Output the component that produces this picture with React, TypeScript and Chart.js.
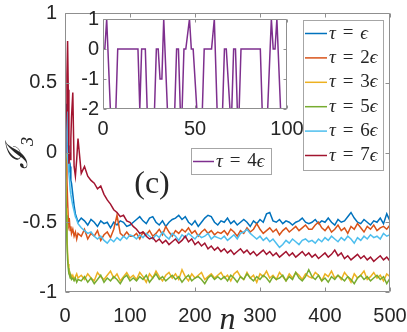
import React, { useEffect, useRef } from "react";
import { Chart, registerables } from "chart.js";
Chart.register(...registerables);

// ---------- data ----------
const N = [
  0, 1, 2, 3, 4, 5, 6, 7, 8, 9, 10, 12, 14, 16, 18, 20,
  25, 30, 35, 40, 45, 50, 55, 60, 65, 70, 75, 80, 85, 90, 95, 100,
  105, 110, 115, 120, 125, 130, 135, 140, 145, 150, 155, 160, 165, 170, 175, 180, 185, 190, 195, 200,
  205, 210, 215, 220, 225, 230, 235,
  240, 245, 250, 255, 260, 265, 270, 275, 280, 285, 290, 295, 300, 305, 310, 315, 320, 325, 330, 335,
  340, 345, 350, 355, 360, 365, 370, 375,
  380, 385, 390, 395, 400, 405, 410, 415, 420, 425, 430, 435, 440, 445, 450, 455, 460, 465, 470, 475,
  480, 485, 490, 495, 500,
];

const I3_TAU1 = [
  0, 0.2, 0.35, 0.1, -0.02, 0.05, -0.08, -0.12, -0.1, -0.2, -0.22, -0.3, -0.38, -0.44, -0.47, -0.5,
  -0.47, -0.49, -0.52, -0.48, -0.5, -0.53, -0.49, -0.51, -0.5, -0.54, -0.5, -0.52, -0.49, -0.5, -0.53, -0.52,
  -0.5, -0.48, -0.46, -0.49, -0.51, -0.47, -0.46, -0.5, -0.52, -0.49, -0.53, -0.5, -0.48, -0.47, -0.45, -0.48, -0.46, -0.5, -0.52, -0.49,
  -0.53, -0.5, -0.47, -0.45, -0.46, -0.5, -0.52,
  -0.49, -0.5, -0.47, -0.51, -0.49, -0.52, -0.5, -0.48, -0.5, -0.53, -0.49, -0.51, -0.48, -0.5, -0.44, -0.43, -0.49, -0.5, -0.48, -0.51,
  -0.49, -0.5, -0.52, -0.5, -0.49, -0.47, -0.5, -0.51,
  -0.5, -0.48, -0.51, -0.49, -0.5, -0.47, -0.5, -0.52, -0.48, -0.5, -0.49, -0.46, -0.43, -0.47, -0.5, -0.51,
  -0.48, -0.5, -0.52, -0.49, -0.5, -0.47, -0.51, -0.44, -0.49,
];

const I3_TAU2 = [
  0, 0.05, -0.05, -0.2, -0.35, -0.47, -0.52, -0.5, -0.56, -0.53, -0.58, -0.55, -0.6, -0.57, -0.62, -0.58,
  -0.6, -0.55, -0.62, -0.58, -0.6, -0.56, -0.63, -0.59, -0.57, -0.61, -0.55, -0.45, -0.58, -0.6, -0.57, -0.6,
  -0.6, -0.58, -0.62, -0.57, -0.59, -0.56, -0.6, -0.58, -0.55, -0.59, -0.53, -0.57, -0.6, -0.56, -0.58, -0.55, -0.57, -0.54, -0.58, -0.56,
  -0.6, -0.57, -0.55, -0.58, -0.56, -0.59, -0.57,
  -0.58, -0.56, -0.59, -0.55, -0.57, -0.6, -0.56, -0.58, -0.54, -0.57, -0.55, -0.51, -0.55, -0.58, -0.56, -0.54, -0.57, -0.55, -0.59, -0.56,
  -0.54, -0.57, -0.55, -0.53, -0.56, -0.54, -0.52, -0.55,
  -0.55, -0.52, -0.5, -0.54, -0.56, -0.53, -0.57, -0.55, -0.52, -0.56, -0.54, -0.58, -0.53, -0.55, -0.51, -0.54,
  -0.57, -0.53, -0.55, -0.52, -0.56, -0.54, -0.53, -0.55, -0.52,
];

const I3_TAU3 = [
  0, -0.15, -0.4, -0.6, -0.72, -0.8, -0.84, -0.86, -0.88, -0.87, -0.9, -0.88, -0.91, -0.89, -0.87, -0.9,
  -0.88, -0.91, -0.87, -0.9, -0.92, -0.86, -0.89, -0.91, -0.88, -0.85, -0.9, -0.87, -0.92, -0.89, -0.86, -0.9,
  -0.88, -0.91, -0.86, -0.89, -0.93, -0.87, -0.9, -0.85, -0.89, -0.92, -0.88, -0.86, -0.9, -0.87, -0.91, -0.84, -0.89, -0.92, -0.87, -0.9,
  -0.88, -0.86, -0.91, -0.89, -0.87, -0.9, -0.88,
  -0.86, -0.9, -0.88, -0.92, -0.87, -0.85, -0.89, -0.91, -0.86, -0.9, -0.88, -0.93, -0.87, -0.89, -0.85, -0.9, -0.88, -0.91, -0.86, -0.89,
  -0.92, -0.87, -0.9, -0.86, -0.88, -0.91, -0.87, -0.89,
  -0.9, -0.86, -0.88, -0.92, -0.87, -0.89, -0.85, -0.9, -0.88, -0.91, -0.86, -0.89, -0.93, -0.87, -0.9, -0.88,
  -0.85, -0.91, -0.89, -0.86, -0.9, -0.88, -0.92, -0.87, -0.89,
];

const I3_TAU5 = [
  0, -0.2, -0.45, -0.65, -0.77, -0.83, -0.87, -0.88, -0.9, -0.89, -0.91, -0.9, -0.92, -0.9, -0.93, -0.91,
  -0.92, -0.89, -0.93, -0.9, -0.94, -0.91, -0.88, -0.93, -0.9, -0.92, -0.89, -0.91, -0.94, -0.9, -0.88, -0.92,
  -0.9, -0.92, -0.89, -0.91, -0.88, -0.93, -0.9, -0.87, -0.91, -0.89, -0.92, -0.9, -0.88, -0.91, -0.89, -0.93, -0.9, -0.88, -0.92, -0.9,
  -0.89, -0.91, -0.94, -0.9, -0.88, -0.91, -0.89,
  -0.91, -0.89, -0.92, -0.88, -0.9, -0.93, -0.89, -0.91, -0.87, -0.9, -0.92, -0.89, -0.91, -0.88, -0.9, -0.93, -0.89, -0.91, -0.9, -0.88,
  -0.92, -0.89, -0.91, -0.86, -0.9, -0.92, -0.89, -0.84,
  -0.89, -0.91, -0.88, -0.92, -0.9, -0.93, -0.89, -0.91, -0.88, -0.9, -0.92, -0.89, -0.91, -0.94, -0.9, -0.88,
  -0.91, -0.89, -0.92, -0.9, -0.88, -0.91, -0.89, -0.94, -0.9,
];

const I3_TAU6 = [
  0, 0.1, 0.3, 0.05, -0.05, -0.08, -0.15, -0.2, -0.27, -0.3, -0.33, -0.38, -0.42, -0.46, -0.48, -0.51,
  -0.54, -0.56, -0.58, -0.57, -0.6, -0.62, -0.6, -0.63, -0.65, -0.62, -0.64, -0.61, -0.63, -0.6, -0.62, -0.59,
  -0.6, -0.62, -0.59, -0.61, -0.58, -0.6, -0.62, -0.59, -0.61, -0.57, -0.6, -0.62, -0.58, -0.6, -0.63, -0.59, -0.61, -0.58, -0.6, -0.62,
  -0.59, -0.61, -0.6, -0.58, -0.62, -0.6, -0.61,
  -0.62, -0.6, -0.63, -0.61, -0.59, -0.62, -0.58, -0.57, -0.55, -0.58, -0.6, -0.62, -0.6, -0.63, -0.61, -0.64, -0.62, -0.65, -0.68, -0.66,
  -0.63, -0.65, -0.62, -0.64, -0.66, -0.63, -0.62, -0.64,
  -0.63, -0.65, -0.62, -0.64, -0.61, -0.63, -0.6, -0.62, -0.64, -0.61, -0.63, -0.6, -0.62, -0.65, -0.61, -0.63,
  -0.6, -0.62, -0.59, -0.61, -0.6, -0.62, -0.58, -0.6, -0.59,
];

const I3_TAU7 = [
  0, 0.15, 0.3, 0.55, 0.8, 0.45, -0.08, 0.0, -0.05, 0.1, 0.25, 0.43, -0.1, -0.17, -0.05, 0.1,
  -0.15, -0.1, -0.17, -0.2, -0.22, -0.26, -0.24, -0.3, -0.34, -0.37, -0.41, -0.43, -0.46, -0.45, -0.49, -0.5,
  -0.53, -0.55, -0.58, -0.57, -0.6, -0.62, -0.61, -0.64, -0.62, -0.65, -0.63, -0.66, -0.64, -0.62, -0.65, -0.63, -0.6, -0.64, -0.62, -0.66,
  -0.64, -0.67, -0.65, -0.69, -0.67, -0.7, -0.68,
  -0.71, -0.69, -0.72, -0.7, -0.73, -0.71, -0.69, -0.72, -0.7, -0.73, -0.71, -0.74, -0.72, -0.7, -0.73, -0.71, -0.74, -0.72, -0.75, -0.73,
  -0.71, -0.74, -0.72, -0.75, -0.73, -0.71, -0.74, -0.72,
  -0.75, -0.73, -0.76, -0.74, -0.72, -0.75, -0.73, -0.7, -0.74, -0.72, -0.76, -0.74, -0.77, -0.75, -0.73, -0.76,
  -0.74, -0.77, -0.75, -0.78, -0.76, -0.74, -0.77, -0.75, -0.78,
];

const SERIES_LABELS = ["τ = ϵ", "τ = 2ϵ", "τ = 3ϵ", "τ = 5ϵ", "τ = 6ϵ", "τ = 7ϵ"];
const SERIES_COLORS = ["#0072BD", "#D95319", "#EDB120", "#77AC30", "#4DBEEE", "#A2142F"];
const SERIES_VALUES = [I3_TAU1, I3_TAU2, I3_TAU3, I3_TAU5, I3_TAU6, I3_TAU7];

const INSET_N = [
  0, 1, 2, 4, 7, 8, 19, 20, 21, 23, 24, 28, 29, 30, 31, 32, 33, 35, 39, 40, 41, 42, 43, 44, 45, 47,
  48, 49, 51, 54, 55, 59, 60.5, 62, 65, 66, 67, 69, 70, 71, 72, 73, 74, 75, 85.5, 86.5, 89.5, 91.5,
  92.5, 93.5, 94.5, 96.5, 100,
];
const INSET_TAU4 = [
  0, 0, 1, -2, -2, 0, 0, -2, 0, 0, -2, -2, 0, 0, -1, -1, 1, -2, -2, 0, 0, -2, -2, 0, 0, 1,
  0, 0, -2, -2, 0, 0, 1, -2, -2, 0, 0, -2, -2, 0, 0, -2, -2, 0, 0, -2, -2, 1,
  0, 0, 1, -2, -2,
];
const INSET_LABEL = "τ = 4ϵ";
const INSET_COLOR = "#7E2F8E";

const X_TICKS = [0, 100, 200, 300, 400, 500];
const Y_TICKS = [-1, -0.5, 0, 0.5, 1];
const INSET_X_TICKS = [0, 50, 100];
const INSET_Y_TICKS = [-2, -1, 0, 1];
const X_TITLE = "n";
const Y_TITLE = "ℐ₃";
const PANEL_TAG = "(c)";

// ---------- styling ----------
const MATH_FONT = "'Liberation Serif','DejaVu Serif',serif";
const TICK_FONT = "'Liberation Sans',Arial,sans-serif";
const INK = "#262626";
const AXIS_GRAY = "#8f8f8f";
const LEGEND_GRAY = "#a6a6a6";
const TICK_SIZE = 20;

function drawMath(ctx: CanvasRenderingContext2D, text: string, x: number, y: number, size: number) {
  let cx = x;
  ctx.textAlign = "left";
  ctx.textBaseline = "middle";
  ctx.fillStyle = INK;
  for (const ch of text) {
    if (ch === " ") {
      cx += size * 0.36;
      continue;
    }
    const italic = /[a-zA-Zα-ωϵ]/.test(ch);
    ctx.font = `${italic ? "italic " : ""}${size}px ${MATH_FONT}`;
    ctx.fillText(ch, cx, y);
    cx += ctx.measureText(ch).width;
  }
}

function framePlugin(id: string, xTicks: number[], yTicks: number[], tickLen: number) {
  return {
    id,
    afterDatasetsDraw(chart: any) {
      const { ctx, chartArea: a } = chart;
      const xs = chart.scales.x;
      const ys = chart.scales.y;
      const L = Math.round(a.left) + 0.5;
      const R = Math.round(a.right) - 0.5;
      const T = Math.round(a.top) + 0.5;
      const B = Math.round(a.bottom) - 0.5;
      ctx.save();
      ctx.strokeStyle = AXIS_GRAY;
      ctx.lineWidth = 1;
      ctx.beginPath();
      for (const v of xTicks) {
        const px = Math.round(xs.getPixelForValue(v)) + 0.5;
        ctx.moveTo(px, B);
        ctx.lineTo(px, B - tickLen);
        ctx.moveTo(px, T);
        ctx.lineTo(px, T + tickLen);
      }
      for (const v of yTicks) {
        const py = Math.round(ys.getPixelForValue(v)) + 0.5;
        ctx.moveTo(L, py);
        ctx.lineTo(L + tickLen, py);
        ctx.moveTo(R, py);
        ctx.lineTo(R - tickLen, py);
      }
      ctx.rect(L, T, R - L, B - T);
      ctx.stroke();
      ctx.restore();
    },
  };
}

const overlayPlugin = {
  id: "overlay",
  afterDraw(chart: any) {
    const { ctx, chartArea: a } = chart;
    ctx.save();
    // main legend (top right inside axes)
    const bw = 80, rowH = 24.4;
    const bx = a.right - 7 - bw;
    const by = a.top + 7;
    const bh = 150;
    ctx.fillStyle = "#fff";
    ctx.fillRect(bx + 0.5, by + 0.5, bw, bh);
    ctx.strokeStyle = LEGEND_GRAY;
    ctx.lineWidth = 1;
    ctx.strokeRect(bx + 0.5, by + 0.5, bw, bh);
    SERIES_LABELS.forEach((lab, i) => {
      const cy = by + 13.5 + i * rowH;
      ctx.strokeStyle = SERIES_COLORS[i];
      ctx.lineWidth = 1.5;
      ctx.beginPath();
      ctx.moveTo(bx + 2, cy);
      ctx.lineTo(bx + 24, cy);
      ctx.stroke();
      drawMath(ctx, lab, bx + 26, cy, 19);
    });
    // inset series legend
    const ix = 191, iy = 148, iw = 80, ih = 26;
    ctx.fillStyle = "#fff";
    ctx.fillRect(ix + 0.5, iy + 0.5, iw, ih);
    ctx.strokeStyle = LEGEND_GRAY;
    ctx.lineWidth = 1;
    ctx.strokeRect(ix + 0.5, iy + 0.5, iw, ih);
    ctx.strokeStyle = INSET_COLOR;
    ctx.lineWidth = 1.5;
    ctx.beginPath();
    ctx.moveTo(ix + 2, iy + 13.5);
    ctx.lineTo(ix + 23, iy + 13.5);
    ctx.stroke();
    drawMath(ctx, INSET_LABEL, ix + 25, iy + 13.5, 19);
    // panel tag
    ctx.fillStyle = INK;
    ctx.font = `32px ${MATH_FONT}`;
    ctx.textAlign = "center";
    ctx.textBaseline = "middle";
    ctx.fillText(PANEL_TAG, 152, 185);
    ctx.restore();
  },
};

const insetBgPlugin = {
  id: "insetBg",
  beforeDatasetsDraw(chart: any) {
    const { ctx, chartArea: a } = chart;
    ctx.save();
    ctx.fillStyle = "#fff";
    ctx.fillRect(a.left, a.top, a.right - a.left, a.bottom - a.top);
    ctx.restore();
  },
};

function fixX(h: number) {
  return (s: any) => {
    s.height = h;
    s.paddingLeft = 0;
    s.paddingRight = 0;
  };
}
function fixY(w: number) {
  return (s: any) => {
    s.width = w;
    s.paddingTop = 0;
    s.paddingBottom = 0;
  };
}

export default function App() {
  const mainRef = useRef<HTMLCanvasElement>(null);
  const insetRef = useRef<HTMLCanvasElement>(null);

  useEffect(() => {
    document.body.style.margin = "0";
    const tickFont = { size: TICK_SIZE, family: TICK_FONT };

    const main = new Chart(mainRef.current as HTMLCanvasElement, {
      type: "line",
      data: {
        datasets: SERIES_VALUES.map((vals, i) => ({
          label: SERIES_LABELS[i],
          data: N.map((n, k) => ({ x: n, y: vals[k] })),
          borderColor: SERIES_COLORS[i],
          borderWidth: 1.5,
          pointRadius: 0,
          fill: false,
          tension: 0,
          order: SERIES_VALUES.length - i,
        })),
      },
      options: {
        responsive: false,
        animation: false,
        events: [],
        layout: { padding: { top: 13, right: 17, left: 0, bottom: 0 } },
        plugins: { legend: { display: false }, tooltip: { enabled: false } },
        scales: {
          x: {
            type: "linear",
            min: 0,
            max: 500,
            afterBuildTicks: (s: any) => {
              s.ticks = X_TICKS.map((v) => ({ value: v }));
            },
            afterFit: fixX(40),
            ticks: { font: tickFont, color: INK, padding: 12, maxRotation: 0, callback: (v: any) => String(v) },
            grid: { display: false, drawTicks: false },
            border: { display: false },
            title: {
              display: true,
              text: X_TITLE,
              color: INK,
              font: { size: 32, style: "italic", family: MATH_FONT, lineHeight: 1 },
              padding: { top: 0, bottom: -5 },
            },
          },
          y: {
            type: "linear",
            min: -1,
            max: 1,
            afterBuildTicks: (s: any) => {
              s.ticks = Y_TICKS.map((v) => ({ value: v }));
            },
            afterFit: fixY(65),
            ticks: { font: tickFont, color: INK, padding: 8, callback: (v: any) => String(v) },
            grid: { display: false, drawTicks: false },
            border: { display: false },
            title: {
              display: true,
              text: Y_TITLE,
              color: INK,
              font: { size: 30, style: "italic", family: MATH_FONT, lineHeight: 1 },
              padding: { top: 4, bottom: 0 },
            },
          },
        },
      } as any,
      plugins: [framePlugin("mainFrame", X_TICKS, Y_TICKS, 4), overlayPlugin],
    });

    const inset = new Chart(insetRef.current as HTMLCanvasElement, {
      type: "line",
      data: {
        datasets: [
          {
            label: INSET_LABEL,
            data: INSET_N.map((n, k) => ({ x: n, y: INSET_TAU4[k] })),
            borderColor: INSET_COLOR,
            borderWidth: 1.5,
            pointRadius: 0,
            fill: false,
            tension: 0,
          },
        ],
      },
      options: {
        responsive: false,
        animation: false,
        events: [],
        layout: { padding: { top: 19, right: 18, left: 0, bottom: 0 } },
        plugins: { legend: { display: false }, tooltip: { enabled: false } },
        scales: {
          x: {
            type: "linear",
            min: 0,
            max: 100,
            afterBuildTicks: (s: any) => {
              s.ticks = INSET_X_TICKS.map((v) => ({ value: v }));
            },
            afterFit: fixX(36),
            ticks: { font: tickFont, color: INK, padding: 8, maxRotation: 0, callback: (v: any) => String(v) },
            grid: { display: false, drawTicks: false },
            border: { display: false },
          },
          y: {
            type: "linear",
            min: -2,
            max: 1,
            afterBuildTicks: (s: any) => {
              s.ticks = INSET_Y_TICKS.map((v) => ({ value: v }));
            },
            afterFit: fixY(33),
            ticks: { font: tickFont, color: INK, padding: 4, callback: (v: any) => String(v) },
            grid: { display: false, drawTicks: false },
            border: { display: false },
          },
        },
      } as any,
      plugins: [insetBgPlugin, framePlugin("insetFrame", INSET_X_TICKS, INSET_Y_TICKS, 3)],
    });

    return () => {
      main.destroy();
      inset.destroy();
    };
  }, []);

  return (
    <div style={{ position: "relative", width: 407, height: 332, background: "#fff" }}>
      <canvas
        ref={mainRef}
        width={407}
        height={332}
        style={{ position: "absolute", left: 0, top: 0, width: 407, height: 332 }}
      />
      <canvas
        ref={insetRef}
        width={235}
        height={145}
        style={{ position: "absolute", left: 70, top: 0, width: 235, height: 145 }}
      />
    </div>
  );
}
